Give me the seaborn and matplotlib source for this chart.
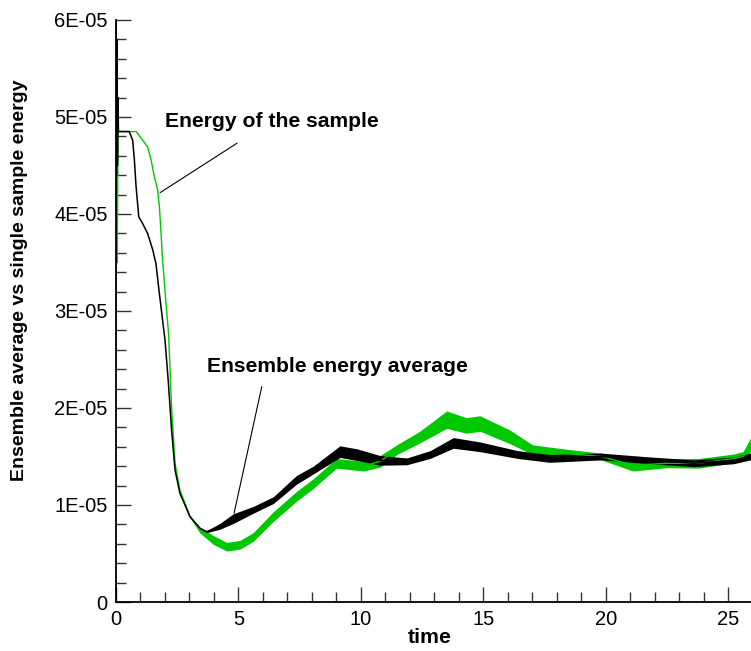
import numpy as np
import pandas as pd
import matplotlib
matplotlib.use("Agg")
import matplotlib.pyplot as plt
from matplotlib.ticker import MultipleLocator, FuncFormatter
import seaborn as sns

sns.set_theme(style="ticks")
plt.rcParams['font.family'] = ['Liberation Sans', 'DejaVu Sans']
plt.rcParams.update({'text.color': 'black', 'axes.labelcolor': 'black',
                     'xtick.color': 'black', 'ytick.color': 'black'})

# ensemble energy average (black), values in units of 1E-05
avg_t = [0, 0.02, 0.04, 0.06, 0.08, 0.1, 0.54, 0.68, 0.75, 0.82, 0.93, 1.09, 1.29, 1.5, 1.63,
         1.77, 1.9, 2.0, 2.13, 2.27, 2.41, 2.61, 3.02, 3.43, 3.7, 4.24, 4.79, 5.6, 6.42, 7.37,
         8.05, 9.14, 9.82, 10.78, 11.87, 12.82, 13.77, 14.86, 16.4, 17.7, 19.8, 21.8, 23.6, 25.2, 25.9]
avg_e = [6.0, 4.4, 5.8, 4.5, 5.2, 4.85, 4.85, 4.76, 4.56, 4.28, 3.97, 3.9, 3.8, 3.63, 3.49,
         3.18, 2.91, 2.7, 2.29, 1.77, 1.36, 1.12, 0.88, 0.76, 0.725, 0.78, 0.86, 0.95, 1.05, 1.26,
         1.36, 1.55, 1.52, 1.46, 1.45, 1.52, 1.64, 1.6, 1.52, 1.48, 1.5, 1.46, 1.43, 1.46, 1.5]
avg_spread = [0, 0, 0, 0, 0, 0, 0, 0, 0, 0, 0, 0, 0, 0, 0,
              0, 0, 0, 0, 0, 0, 0, 0, 0, 0.01, 0.03, 0.05, 0.035, 0.035, 0.045,
              0.04, 0.06, 0.06, 0.05, 0.035, 0.04, 0.055, 0.05, 0.04, 0.04, 0.035, 0.035, 0.035, 0.035, 0.035]

# energy of the single sample (green), values in units of 1E-05
smp_t = [0, 0.03, 0.05, 0.08, 0.82, 1.09, 1.29, 1.43, 1.56, 1.7, 1.77, 1.84, 1.9, 2.01, 2.15,
         2.27, 2.41, 2.61, 3.02, 3.43, 3.97, 4.52, 5.06, 5.6, 6.42, 7.37, 8.05, 9.0, 10.1, 10.78,
         11.46, 12.4, 13.5, 14.3, 14.86, 16.1, 17.0, 18.4, 19.8, 21.1, 22.5, 23.8, 25.2, 25.6, 25.9]
smp_e = [2.4, 4.6, 3.5, 4.85, 4.85, 4.76, 4.69, 4.56, 4.39, 4.25, 4.08, 3.8, 3.53, 3.18, 2.75,
         2.0, 1.43, 1.15, 0.88, 0.74, 0.64, 0.57, 0.59, 0.67, 0.88, 1.09, 1.22, 1.43, 1.4, 1.45,
         1.57, 1.7, 1.88, 1.82, 1.84, 1.7, 1.57, 1.53, 1.5, 1.41, 1.43, 1.43, 1.48, 1.5, 1.62]
smp_spread = [0, 0, 0, 0, 0, 0, 0, 0, 0, 0, 0, 0, 0, 0, 0,
              0, 0, 0, 0.01, 0.03, 0.045, 0.045, 0.045, 0.045, 0.05, 0.05, 0.05, 0.05, 0.05, 0.06,
              0.05, 0.06, 0.09, 0.08, 0.08, 0.07, 0.05, 0.045, 0.035, 0.06, 0.045, 0.05, 0.045, 0.05, 0.07]

scale = 1e-5
df_avg = pd.DataFrame({'time': avg_t, 'energy': np.array(avg_e) * scale, 'spread': np.array(avg_spread) * scale})
df_smp = pd.DataFrame({'time': smp_t, 'energy': np.array(smp_e) * scale, 'spread': np.array(smp_spread) * scale})

green = '#00c800'
fig = plt.figure(figsize=(7.51, 6.51), dpi=100)
ax = fig.add_axes([116 / 751, 49 / 651, 635 / 751, 582 / 651])

ax.fill_between(df_smp['time'], df_smp['energy'] - df_smp['spread'], df_smp['energy'] + df_smp['spread'],
                color=green, lw=0)
sns.lineplot(data=df_smp, x='time', y='energy', color=green, lw=1.0, ax=ax, sort=False, estimator=None)
ax.fill_between(df_avg['time'], df_avg['energy'] - df_avg['spread'], df_avg['energy'] + df_avg['spread'],
                color='black', lw=0)
sns.lineplot(data=df_avg, x='time', y='energy', color='black', lw=1.1, ax=ax, sort=False, estimator=None)

ax.set_xlim(0, 25.92)
ax.set_ylim(0, 6e-5)
ax.xaxis.set_major_locator(MultipleLocator(5))
ax.xaxis.set_minor_locator(MultipleLocator(1))
ax.yaxis.set_major_locator(MultipleLocator(1e-5))
ax.yaxis.set_minor_locator(MultipleLocator(2e-6))
ax.yaxis.set_major_formatter(FuncFormatter(lambda v, p: '0' if abs(v) < 1e-12 else f'{v:.0E}'))
ax.tick_params(which='major', direction='in', length=11, width=1.0, color='#333333', labelsize=14.5, pad=6)
ax.tick_params(which='minor', direction='in', length=7, width=1.0, color='#333333')
for s in ['top', 'right']:
    ax.spines[s].set_visible(False)
for s in ['left', 'bottom']:
    ax.spines[s].set_linewidth(1.3)
    ax.spines[s].set_color('black')

ax.set_xlabel('time', fontsize=15.3, fontweight='bold')
ax.set_ylabel('Ensemble average vs single sample energy', fontsize=14, fontweight='bold')
ax.xaxis.set_label_coords(0.494, -0.045)
ax.yaxis.set_label_coords(-0.138, 0.553)

ax.text(2.0, 4.9e-5, 'Energy of the sample', fontsize=15.2, fontweight='bold', va='baseline')
ax.plot([4.94, 1.80], [4.73e-5, 4.22e-5], color='black', lw=0.8)
ax.text(3.7, 2.37e-5, 'Ensemble energy average', fontsize=15.2, fontweight='bold', va='baseline')
ax.plot([5.95, 4.82], [2.22e-5, 0.915e-5], color='black', lw=0.8)

fig.savefig('out.png', dpi=100)
